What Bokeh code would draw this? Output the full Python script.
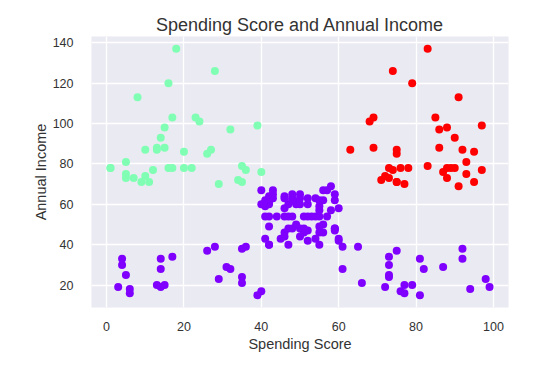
from bokeh.plotting import figure
from bokeh.embed import file_html
from bokeh.resources import INLINE
from bokeh.models import Range1d, FixedTicker

# Cluster 0 (purple): lower income customers
purple_income = [15,15,16,16,17,17,18,18,19,19,
                 19,19,20,20,20,20,21,21,23,23,
                 24,24,25,25,28,28,28,28,29,29,
                 30,30,33,33,33,33,34,34,37,37,
                 38,38,39,39,39,39,40,40,40,40,
                 42,42,43,43,43,43,44,44,46,46,
                 46,46,47,47,48,48,48,48,48,48,
                 49,49,50,50,54,54,54,54,54,54,
                 54,54,54,54,54,54,57,57,58,58,
                 59,59,60,60,60,60,60,60,61,61,
                 62,62,62,62,62,62,63,63,63,63,
                 63,63,64,64,65,65,65,65,67,67,
                 67,67,69]
purple_score = [39,81,6,77,40,76,6,94,3,72,
                14,99,15,77,13,79,35,66,29,98,
                35,73,5,73,14,82,32,61,31,87,
                4,73,4,92,14,81,17,73,26,75,
                35,92,36,61,28,65,55,47,42,42,
                52,60,54,60,45,41,50,46,51,46,
                56,55,52,59,51,59,50,48,59,47,
                55,42,49,56,47,54,53,48,52,42,
                51,55,41,44,57,46,58,55,60,46,
                55,41,49,40,42,52,47,50,42,49,
                41,48,59,55,56,42,50,46,43,48,
                52,54,42,46,48,50,43,59,43,57,
                56,40,58]

# Cluster 1 (green): high income, low spending
green_income = [70,71,71,71,72,73,73,74,75,76,77,77,78,78,78,78,78,78,79,
                81,85,86,87,87,87,88,88,93,97,98,99,101,103,103,113,120,126,137]
green_score = [29,35,11,9,34,5,7,10,5,40,12,36,22,17,20,16,1,1,35,
               5,26,20,27,13,10,13,15,14,32,15,39,24,17,23,8,16,28,18]

# Cluster 2 (red): high income, high spending
red_income = [69,70,71,71,71,72,73,73,74,75,76,77,77,78,78,78,78,78,78,79,
              81,85,86,87,87,87,88,88,93,97,98,99,101,103,103,113,120,126,137]
red_score = [91,77,95,75,75,71,88,73,72,93,87,97,74,90,88,76,89,78,73,83,
             93,75,95,63,75,92,86,69,90,86,88,97,68,85,69,91,79,74,83]

x_ticks = [0, 20, 40, 60, 80, 100]
y_ticks = [20, 40, 60, 80, 100, 120, 140]

TEXT = "#333333"
FONT = "Liberation Sans"

p = figure(width=552, height=371, output_backend="svg", toolbar_location=None,
           title="Spending Score and Annual Income",
           x_range=Range1d(-3.9, 103.9), y_range=Range1d(8.9, 143.1),
           min_border_left=91, min_border_right=44, min_border_top=36,
           min_border_bottom=64)

p.background_fill_color = "#EAEAF2"
p.border_fill_color = "white"
p.outline_line_color = None

p.title.align = "center"
p.title.text_font = FONT
p.title.text_font_size = "18px"
p.title.text_font_style = "normal"
p.title.text_color = TEXT
p.title.offset = 0
p.title.standoff = 4

p.scatter(purple_score, purple_income, size=8, color="#8000ff", line_color=None)
p.scatter(green_score, green_income, size=8, color="#80ffb4", line_color=None)
p.scatter(red_score, red_income, size=8, color="#ff0000", line_color=None)

p.xaxis.ticker = FixedTicker(ticks=x_ticks)
p.yaxis.ticker = FixedTicker(ticks=y_ticks)
p.xaxis.axis_label = "Spending Score"
p.yaxis.axis_label = "Annual Income"

for ax in (p.xaxis, p.yaxis):
    ax.axis_line_color = None
    ax.major_tick_line_color = None
    ax.minor_tick_line_color = None
    ax.major_label_text_font = FONT
    ax.major_label_text_font_size = "12.5px"
    ax.major_label_text_color = TEXT
    ax.axis_label_text_font = FONT
    ax.axis_label_text_font_size = "14.5px"
    ax.axis_label_text_font_style = "normal"
    ax.axis_label_text_color = TEXT

p.xaxis.major_label_standoff = 8
p.xaxis.axis_label_standoff = 2
p.yaxis.major_label_standoff = 12
p.yaxis.axis_label_standoff = 1

p.xgrid.grid_line_color = "white"
p.ygrid.grid_line_color = "white"
p.xgrid.grid_line_width = 1.3
p.ygrid.grid_line_width = 1.3

open("out.html", "w").write(file_html(p, INLINE))
